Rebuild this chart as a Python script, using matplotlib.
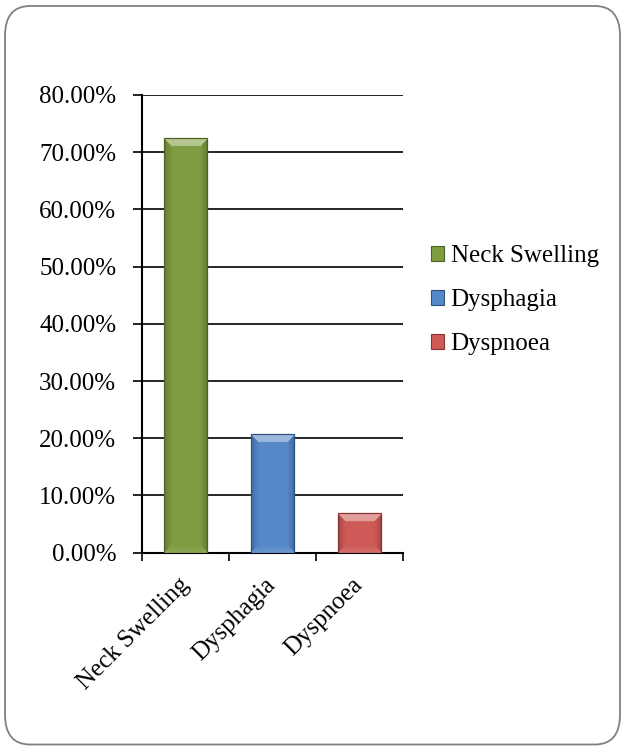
import matplotlib
matplotlib.use("Agg")
import numpy as np
import matplotlib.pyplot as plt
from matplotlib.colors import to_rgb
from matplotlib.patches import FancyBboxPatch
from matplotlib.ticker import FuncFormatter, MultipleLocator

categories = ["Neck Swelling", "Dysphagia", "Dyspnoea"]
values = [72.41, 20.69, 6.90]
colors = ["#7F9C40", "#5588C8", "#CD5A56"]
edges = ["#4F6327", "#2C5282", "#8A322F"]

plt.rcParams["font.family"] = ["Liberation Serif", "DejaVu Serif"]
FS = 18

fig = plt.figure(figsize=(6.25, 7.49), dpi=100)

# rounded outer frame
frame = FancyBboxPatch((0.008, 0.006), 0.984, 0.986,
                       boxstyle="round,pad=0,rounding_size=0.04",
                       transform=fig.transFigure, facecolor="white",
                       edgecolor="#808080", linewidth=1.3, zorder=-5)
fig.patches.append(frame)

ax = fig.add_axes([0.2272, 0.2621, 0.4176, 0.6111])
ax.set_facecolor("none")
ax.set_zorder(2)

ax.set_xlim(-0.5, len(categories) - 0.5)
ax.set_ylim(0, 80)

x = np.arange(len(categories))
bars = ax.bar(x, values, width=0.5, facecolor="none", edgecolor=edges,
              linewidth=0.9, zorder=4)


def bevel_image(color, w, h, b=8):
    """Bevelled fill: light top facet, shaded sides, soft bottom lip."""
    base = np.array(to_rgb(color))
    img = np.tile(base, (h, w, 1))
    yy, xx = np.mgrid[0:h, 0:w]
    d = np.stack([yy, h - 1 - yy, xx, w - 1 - xx]).astype(float)
    nearest = d.argmin(axis=0)
    dmin = d.min(axis=0)
    t = np.clip(1 - dmin / b, 0, 1)[..., None]
    light = base + (1 - base) * 0.45
    lip = base + (1 - base) * 0.12
    dark = base * 0.78
    targets = [light, lip, dark, dark]
    for k, c in enumerate(targets):
        m = (nearest == k)[..., None]
        if k == 0:
            tk = (dmin < b)[..., None] * 1.0 * 0.85 + 0.15 * t
        else:
            tk = t ** 1.3
        img = np.where(m, img * (1 - tk) + c * tk, img)
    return np.clip(img, 0, 1)


fig.canvas.draw()
for rect, col in zip(bars, colors):
    x0, y0 = rect.get_x(), rect.get_y()
    x1, y1 = x0 + rect.get_width(), y0 + rect.get_height()
    p0 = ax.transData.transform((x0, y0))
    p1 = ax.transData.transform((x1, y1))
    wpx = max(int(round(p1[0] - p0[0])), 2)
    hpx = max(int(round(p1[1] - p0[1])), 2)
    im = ax.imshow(bevel_image(col, wpx, hpx), extent=(x0, x1, y0, y1),
                   origin="upper", aspect="auto", interpolation="bilinear",
                   zorder=3)
    im.set_clip_path(rect)

ax.set_xlim(-0.5, len(categories) - 0.5)
ax.set_ylim(0, 80)
ax.set_aspect("auto")
ax.yaxis.set_major_locator(MultipleLocator(10))
ax.yaxis.set_major_formatter(FuncFormatter(lambda v, p: f"{v:.2f}%"))
ax.grid(axis="y", color="black", linewidth=1.2, zorder=1)

ax.set_xticks([-0.5, 0.5, 1.5, 2.5])
ax.set_xticklabels([])
ax.set_xticks(list(x), minor=True)
ax.set_xticklabels(categories, minor=True, rotation=45, ha="right",
                   va="center", rotation_mode="anchor", fontsize=FS)
ax.tick_params(axis="x", which="minor", length=0, pad=21)
ax.tick_params(axis="x", which="major", length=6, width=1.2, direction="out")
ax.tick_params(axis="y", length=6.5, width=1.2, direction="out",
               labelsize=FS, pad=12)

for s in ["top", "right"]:
    ax.spines[s].set_visible(False)
ax.spines["left"].set_linewidth(1.5)
ax.spines["bottom"].set_linewidth(1.5)

handles = [plt.Rectangle((0, 0), 1, 1, facecolor=c, edgecolor=e, linewidth=0.8)
           for c, e in zip(colors, edges)]
fig.legend(handles, categories, loc="upper left",
           bbox_to_anchor=(0.653, 0.703), frameon=False, fontsize=FS,
           handlelength=0.55, handleheight=0.55, handletextpad=0.25,
           labelspacing=0.88)

fig.savefig("out.png", dpi=100)
